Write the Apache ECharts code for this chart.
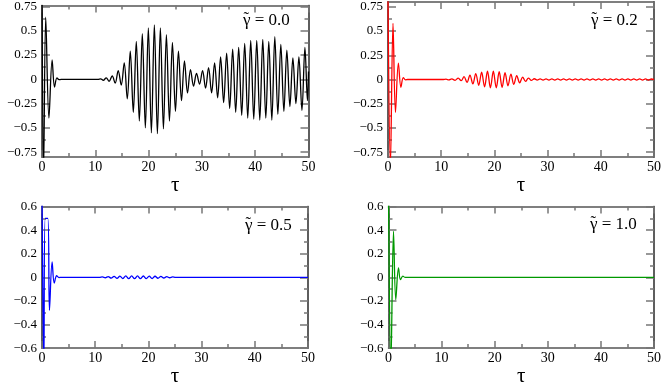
<!DOCTYPE html>
<html><head><meta charset="utf-8">
<script src="https://cdn.jsdelivr.net/npm/echarts@6/dist/echarts.min.js"></script>
<style>html,body{margin:0;padding:0;background:#fff}#c{width:664px;height:388px}</style>
</head><body><div id="c"></div>
<script>
// ---- data: extrema of each trace (tau, value) ----
const tau0 = [0,0.3,0.7,1.3,1.9,2.35,2.8,3.2,3.6,10.5,11.0,11.5,12.05,12.6,13.17,13.73,14.3,14.87,15.43,16.0,16.56,17.13,17.69,18.26,18.82,19.39,19.95,20.52,21.08,21.65,22.21,22.78,23.34,23.91,24.47,25.04,25.6,26.17,26.73,27.3,27.86,28.43,28.99,29.56,30.12,30.69,31.25,31.82,32.38,32.95,33.51,34.08,34.64,35.21,35.77,36.34,36.9,37.47,38.03,38.6,39.16,39.73,40.29,40.86,41.42,41.99,42.55,43.12,43.68,44.25,44.81,45.38,45.94,46.51,47.07,47.64,48.2,48.77,49.33,49.8,50];
const val0 = [0.95,-0.95,0.64,-0.40,0.20,-0.08,0.015,-0.004,0,0,0.005,-0.01,0.015,-0.02,0.035,-0.04,0.09,-0.06,0.17,-0.20,0.29,-0.34,0.39,-0.43,0.47,-0.50,0.53,-0.55,0.56,-0.56,0.53,-0.51,0.46,-0.43,0.38,-0.33,0.29,-0.22,0.19,-0.14,0.10,-0.07,0.06,-0.05,0.09,-0.09,0.12,-0.14,0.17,-0.19,0.23,-0.24,0.27,-0.30,0.31,-0.34,0.33,-0.37,0.37,-0.40,0.40,-0.41,0.40,-0.42,0.41,-0.40,0.39,-0.42,0.44,-0.36,0.36,-0.33,0.30,-0.28,0.22,-0.25,0.23,-0.32,0.33,-0.22,0.08];

const tau1 = [0,0.45,0.94,1.4,1.95,2.43,2.87,3.3,3.7,10.4,10.9,11.45,12.0,12.6,13.2,13.75,14.3,14.85,15.4,15.95,16.5,17.05,17.6,18.15,18.7,19.25,19.8,20.35,20.9,21.45,22.0,22.55,23.1,23.65,24.2,24.75,25.3,25.85,26.4,26.95,27.5,28.05,28.6,29.15,29.7,30.25,30.8,31.35,31.9,32.45,33.0,33.55,34.1,34.65,35.2,35.75,36.3,36.85,37.4,37.95,38.5,39.05,39.6,40.15,40.7,41.25,41.8,42.35,42.9,43.45,44.0,44.55,45.1,45.65,46.2,46.75,47.3,47.85,48.4,48.95,49.5,50];
const val1 = [0.85,-0.9,0.58,-0.34,0.17,-0.08,0.02,-0.004,0,0,0.003,-0.004,0.006,-0.008,0.014,-0.012,0.03,-0.03,0.045,-0.045,0.06,-0.06,0.075,-0.075,0.085,-0.085,0.085,-0.085,0.08,-0.08,0.07,-0.065,0.055,-0.05,0.04,-0.035,0.025,-0.02,0.015,-0.01,0.008,-0.006,0.006,-0.006,0.006,-0.006,0.006,-0.006,0.006,-0.006,0.006,-0.006,0.006,-0.006,0.006,-0.006,0.006,-0.006,0.006,-0.006,0.006,-0.006,0.006,-0.006,0.006,-0.006,0.006,-0.006,0.006,-0.006,0.006,-0.006,0.006,-0.006,0.006,-0.006,0.006,-0.006,0.006,-0.006,0.005,0];

const tau2 = [0,0.35,0.6,1.1,1.4,1.9,2.3,2.75,3.2,3.6,10.8,11.35,11.9,12.45,13.0,13.55,14.1,14.65,15.2,15.75,16.3,16.85,17.4,17.95,18.5,19.05,19.6,20.15,20.7,21.25,21.8,22.35,22.9,23.45,24.0,24.55,25.1,50];
const val2 = [0.7,-0.75,0.5,0.5,-0.28,0.13,-0.05,0.013,-0.002,0,0,0.003,-0.004,0.006,-0.007,0.008,-0.009,0.01,-0.011,0.012,-0.012,0.012,-0.012,0.012,-0.012,0.011,-0.011,0.01,-0.01,0.009,-0.008,0.007,-0.006,0.005,-0.004,0.003,0,0];

const tau3 = [0,0.45,0.94,1.37,1.88,2.25,2.7,3.1,50];
const val3 = [0.7,-0.75,0.39,-0.19,0.08,-0.02,0.01,0,0];

const xTicks = [0,10,20,30,40,50];
const yTicksA = [-0.75,-0.5,-0.25,0,0.25,0.5,0.75];
const yMinorA = [-0.625,-0.375,-0.125,0.125,0.375,0.625];
const yTicksB = [-0.6,-0.4,-0.2,0,0.2,0.4,0.6];
const yMinorB = [-0.5,-0.3,-0.1,0.1,0.3,0.5];
const gammaLabels = ['0.0','0.2','0.5','1.0'];
const colors = ['#000000','#ff0000','#0000ff','#009900'];

// ---- layout ----
const FONT = 'Liberation Serif';
const panels = [
  {tau: tau0, val: val0, grid:{left:42, top:5, width:266.5, height:152}, ymin:-0.8, ymax:0.76, yt:yTicksA, ym:yMinorA, lab:[243,12], tauGap:12},
  {tau: tau1, val: val1, grid:{left:388, top:2, width:267, height:155}, ymin:-0.8, ymax:0.8, yt:yTicksA, ym:yMinorA, lab:[591,12], tauGap:12},
  {tau: tau2, val: val2, grid:{left:42, top:206.5, width:266, height:154.5}, ymin:-0.6, ymax:0.6, yt:yTicksB, ym:yMinorB, lab:[245,217], tauGap:11},
  {tau: tau3, val: val3, grid:{left:388.5, top:206.5, width:266.5, height:154.5}, ymin:-0.6, ymax:0.6, yt:yTicksB, ym:yMinorB, lab:[590,216], tauGap:11}
];

const frameColor = '#555';
const tickColor = '#777';
const minusFmt = v => String(v).replace('-', '\u2212');
const grids = [], xAxes = [], yAxes = [], series = [], graphics = [];
panels.forEach((p, i) => {
  grids.push(Object.assign({containLabel:false}, p.grid));
  const xBase = {gridIndex:i, type:'value', min:0, max:50, interval:10, splitLine:{show:false},
    axisLine:{show:true, onZero:false, lineStyle:{color:frameColor, width:1.5}},
    axisTick:{show:true, inside:true, length:7, lineStyle:{color:tickColor, width:1.5}},
    minorTick:{show:true, splitNumber:2, length:4, lineStyle:{color:tickColor, width:1.5}}};
  const xi = xAxes.length;
  xAxes.push(Object.assign({}, xBase, {position:'bottom',
    name:'\u03C4', nameLocation:'middle', nameGap:p.tauGap,
    nameTextStyle:{fontFamily:FONT, fontSize:21, color:'#000', verticalAlign:'top'},
    axisLabel:{show:true, fontFamily:FONT, fontSize:14, color:'#000', margin:3,
      customValues: xTicks}}));
  xAxes.push(Object.assign({}, xBase, {position:'top', axisLabel:{show:false}}));
  const yi = yAxes.length;
  const yBase = {gridIndex:i, type:'value', min:p.ymin, max:p.ymax, splitLine:{show:false},
    axisLine:{show:true, onZero:false, lineStyle:{color:frameColor, width:1.5}}};
  const maj = {axisTick:{show:true, inside:true, length:8, customValues:p.yt, lineStyle:{color:tickColor, width:1.5}}};
  const mnr = {axisTick:{show:true, inside:true, length:4, customValues:p.ym, lineStyle:{color:tickColor, width:1.5}}};
  yAxes.push(Object.assign({}, yBase, maj, {position:'left',
    axisLabel:{show:true, fontFamily:FONT, fontSize:13, color:'#000', margin:5, customValues:p.yt, formatter:minusFmt}}));
  yAxes.push(Object.assign({}, yBase, mnr, {position:'left', axisLabel:{show:false}}));
  yAxes.push(Object.assign({}, yBase, maj, {position:'right', axisLabel:{show:false}}));
  yAxes.push(Object.assign({}, yBase, mnr, {position:'right', axisLabel:{show:false}}));
  series.push({type:'line', xAxisIndex:xi, yAxisIndex:yi, data:p.tau.map((t,k)=>[t, p.val[k]]),
    showSymbol:false, symbol:'none', clip:true, smooth:0.35,
    lineStyle:{color:colors[i], width:1.3}, silent:true, animation:false});
  graphics.push({type:'text', left:p.lab[0], top:p.lab[1],
    style:{text:'\u03B3 = ' + gammaLabels[i], font:'17px "' + FONT + '"', fill:'#000'}});
  graphics.push({type:'text', left:p.lab[0] + 0.5, top:p.lab[1] - 2,
    style:{text:'\u02DC', font:'17px "' + FONT + '"', fill:'#000'}});
});

const chart = echarts.init(document.getElementById('c'), null, {renderer:'canvas'});
chart.setOption({animation:false, grid:grids, xAxis:xAxes, yAxis:yAxes, series:series, graphic:graphics});
</script></body></html>
